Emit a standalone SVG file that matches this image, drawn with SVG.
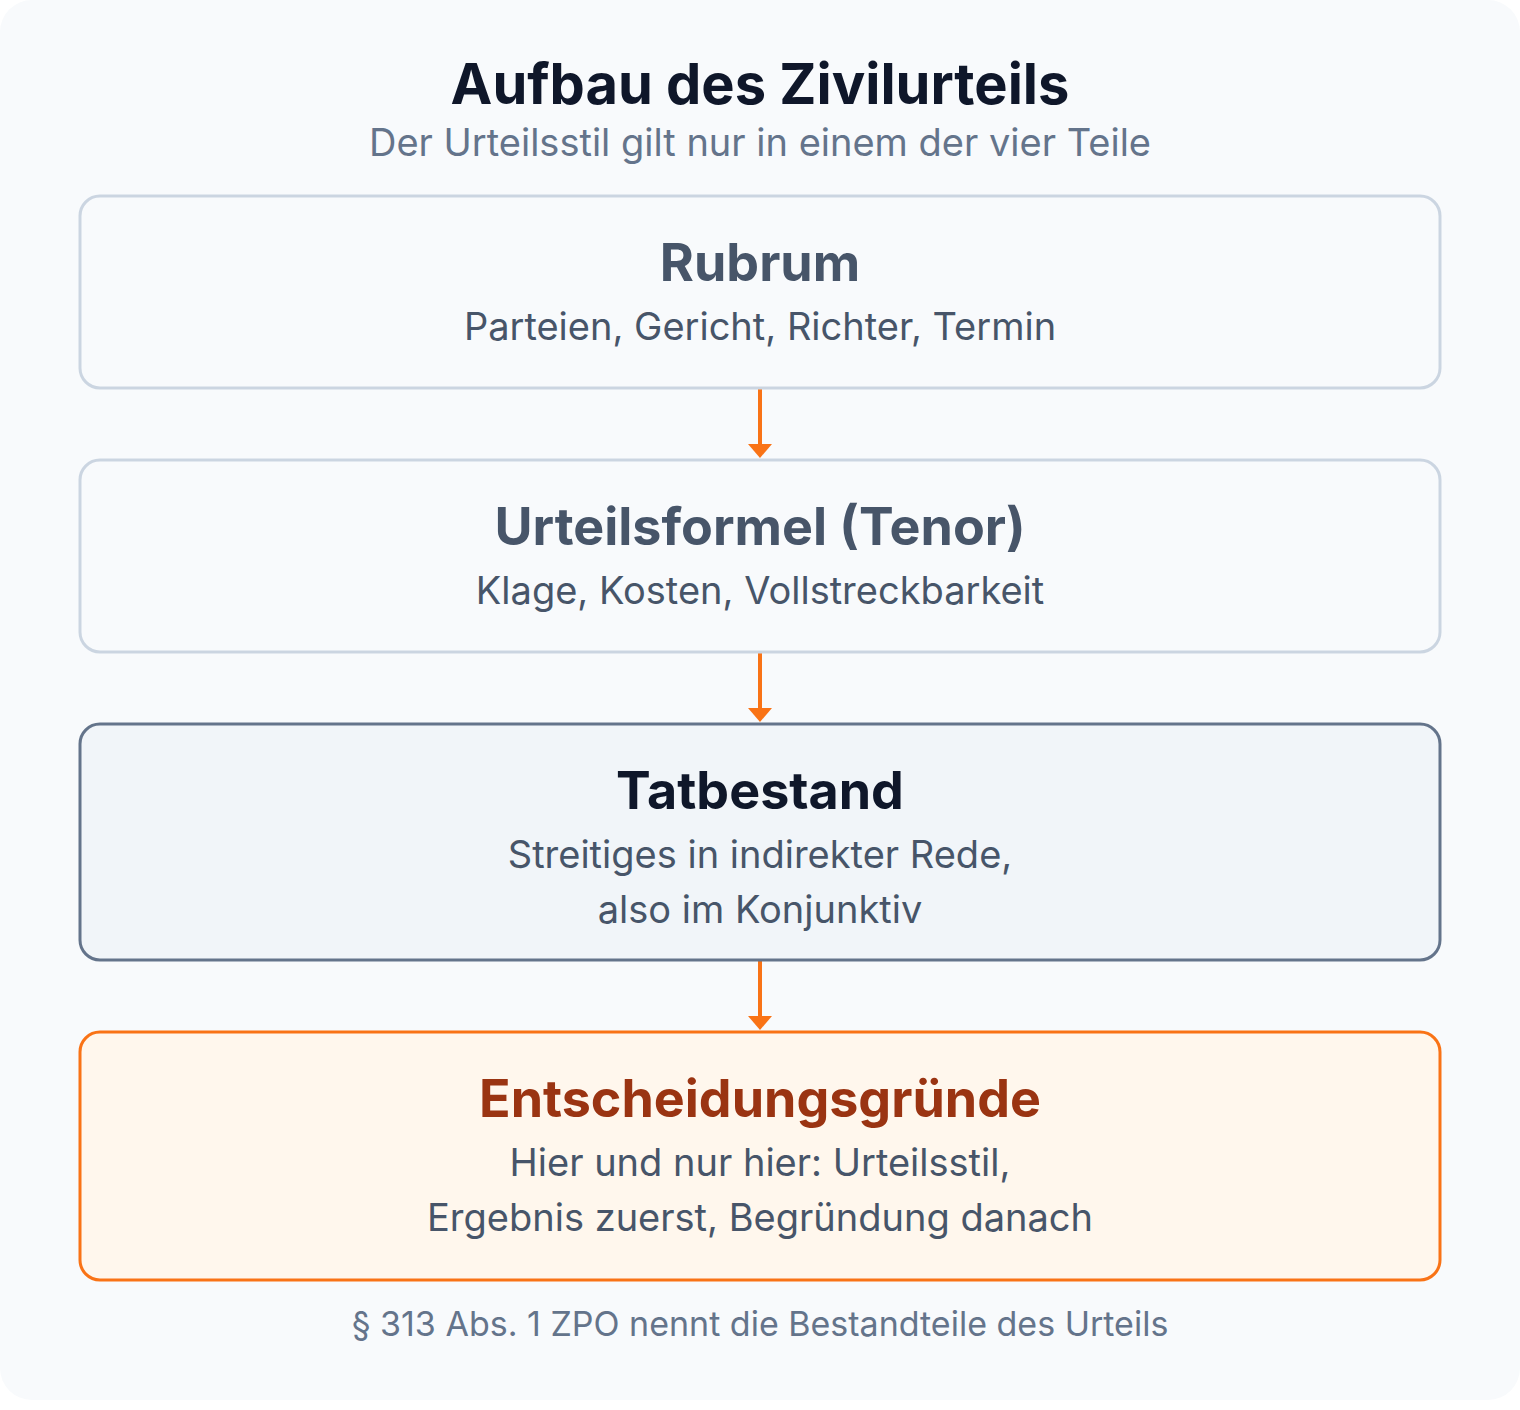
<svg xmlns="http://www.w3.org/2000/svg" width="1520" height="1410" viewBox="0 0 1520 1410">
<defs>
<style>
text{font-family:Inter,"Noto Sans","Liberation Sans",sans-serif;text-anchor:middle}
.t{font-size:52px;font-weight:700}
.s{font-size:38px;fill:#475569}
.box{stroke-width:3}
.c{stroke:#f97316;stroke-width:4;fill:none}
</style>
</defs>
<rect x="0" y="0" width="1520" height="1400" rx="32" fill="#f8fafc"/>
<text x="760" y="104" style="font-size:56px;font-weight:700;fill:#0f172a">Aufbau des Zivilurteils</text>
<text x="760" y="156" style="font-size:38px;fill:#64748b">Der Urteilsstil gilt nur in einem der vier Teile</text>
<g id="connectors">
<path class="c" d="M760 388V445"/>
<path d="M748 444H772L760 458Z" fill="#f97316"/>
<path class="c" d="M760 652V709"/>
<path d="M748 708H772L760 722Z" fill="#f97316"/>
<path class="c" d="M760 960V1017"/>
<path d="M748 1016H772L760 1030Z" fill="#f97316"/>
</g>
<g id="rubrum">
<rect class="box" x="80" y="196" width="1360" height="192" rx="20" fill="#f8fafc" stroke="#cbd5e1"/>
<text class="t" x="760" y="281" fill="#475569">Rubrum</text>
<text class="s" x="760" y="340">Parteien, Gericht, Richter, Termin</text>
</g>
<g id="tenor">
<rect class="box" x="80" y="460" width="1360" height="192" rx="20" fill="#f8fafc" stroke="#cbd5e1"/>
<text class="t" x="760" y="545" fill="#475569">Urteilsformel (Tenor)</text>
<text class="s" x="760" y="604">Klage, Kosten, Vollstreckbarkeit</text>
</g>
<g id="tatbestand">
<rect class="box" x="80" y="724" width="1360" height="236" rx="20" fill="#f1f5f9" stroke="#64748b"/>
<text class="t" x="760" y="809" fill="#0f172a">Tatbestand</text>
<text class="s" x="760" y="868">Streitiges in indirekter Rede,</text>
<text class="s" x="760" y="923">also im Konjunktiv</text>
</g>
<g id="gruende">
<rect class="box" x="80" y="1032" width="1360" height="248" rx="20" fill="#fff7ed" stroke="#f97316"/>
<text class="t" x="760" y="1117" fill="#9a3412">Entscheidungsgründe</text>
<text class="s" x="760" y="1176">Hier und nur hier: Urteilsstil,</text>
<text class="s" x="760" y="1231">Ergebnis zuerst, Begründung danach</text>
</g>
<text x="760" y="1336" style="font-size:34px;fill:#64748b">§ 313 Abs. 1 ZPO nennt die Bestandteile des Urteils</text>
</svg>
